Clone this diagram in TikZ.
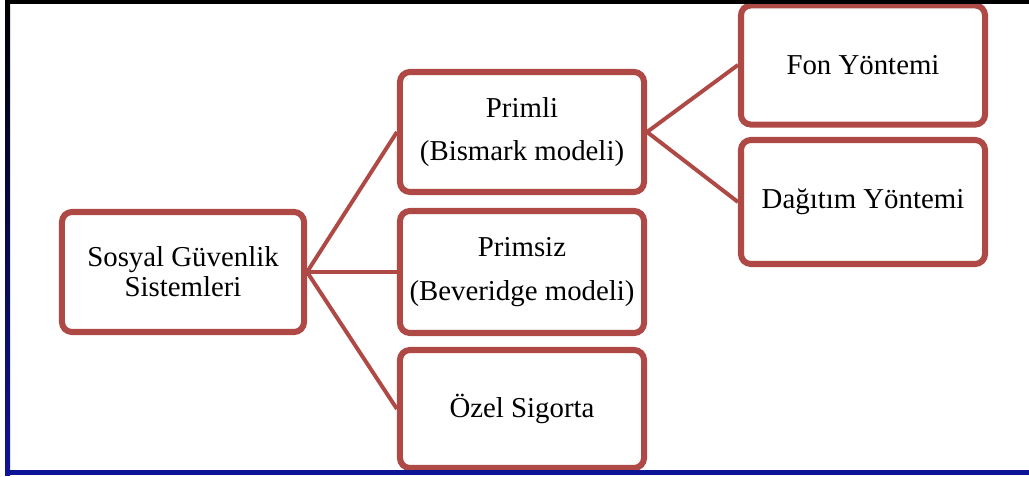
\documentclass[tikz,border=0pt]{standalone}
\usepackage{fontspec}
\setmainfont{Liberation Serif}
\definecolor{brick}{RGB}{175,73,69}
\definecolor{frameblue}{RGB}{14,20,150}

\begin{document}
\begin{tikzpicture}[
    x=0.025cm, y=-0.025cm,
    box/.style={rectangle, draw=brick, line width=4.3pt, rounded corners=0.25cm, align=center, minimum width=6.1cm, minimum height=3cm, fill=white, font=\fontsize{20.5}{21.5}\selectfont},
    tall/.style={font=\fontsize{20.5}{31}\selectfont},
    link/.style={draw=brick, line width=2.8pt}
]
\useasboundingbox (0,0) rectangle (1029,477);

\node[box, minimum width=6.05cm] (sgs) at (183,272) {Sosyal Güvenlik\\Sistemleri};
\node[box, tall] (primli) at (522,132) {Primli\\(Bismark modeli)};
\node[box, tall, minimum height=3.05cm] (primsiz) at (522,272) {Primsiz\\(Beveridge modeli)};
\node[box, minimum height=2.95cm] (ozel) at (522,409) {Özel Sigorta};
\node[box, minimum height=2.98cm] (fon) at (863,65) {Fon Yöntemi};
\node[box, minimum height=3.1cm] (dagitim) at (863,202) {Dağıtım Yöntemi};

\draw[link] (sgs.east) -- (primli.west);
\draw[link] (sgs.east) -- (primsiz.west);
\draw[link] (sgs.east) -- (ozel.west);
\draw[link] (primli.east) -- (fon.west);
\draw[link] (primli.east) -- (dagitim.west);

% frame
\fill[black] (5,0) rectangle (1029,4.5);
\shade[top color=black, bottom color=frameblue] (5,0) rectangle (10,475);
\fill[frameblue] (5,470) rectangle (1029,475);
\end{tikzpicture}
\end{document}
